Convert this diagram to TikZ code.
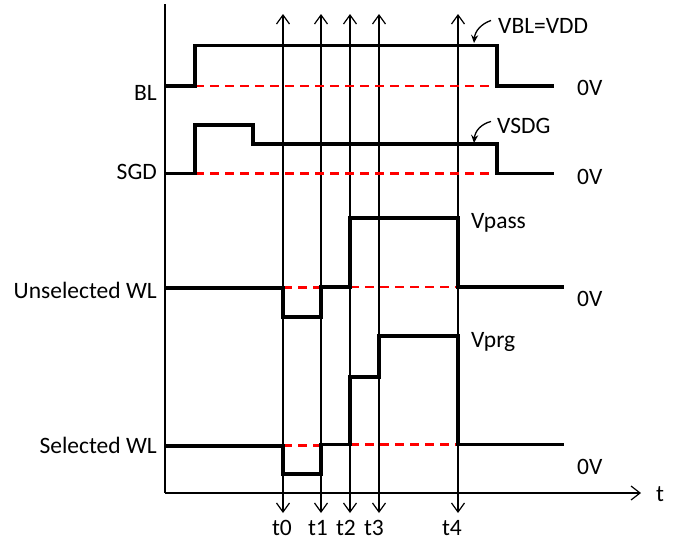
\documentclass[tikz,border=0pt]{standalone}
\usepackage{fontspec}
\setmainfont{Carlito}
\usetikzlibrary{arrows.meta}
\begin{document}
\begin{tikzpicture}[x=1pt,y=-1pt,
  wave/.style={line width=3.4pt,line join=miter,line cap=butt},
  zero/.style={red,line width=2.4pt,dash pattern=on 9pt off 6pt},
  thin/.style={line width=1.2pt},
  tarrow/.style={thin,{Straight Barb[length=9pt,width=13pt]}-{Straight Barb[length=9pt,width=13pt]}},
  lbl/.style={inner sep=0pt,font=\fontsize{23.5}{28}\selectfont},
  callout/.style={line width=1.3pt,-{Stealth[length=8pt,width=7pt]}}]
\useasboundingbox (0,0) rectangle (688,541);
% time marker arrows
\foreach \n/\x in {0/283,1/321,2/350,3/379,4/458}{
  \coordinate (top\n) at (\x,14);
  \coordinate (bot\n) at (\x,513);
  \draw[tarrow] (bot\n) -- (top\n);
}
% axes
\coordinate (ytop) at (165,4);
\coordinate (orig) at (165,493);
\coordinate (xend) at (641,493);
\draw[thin] (ytop) -- (orig);
\draw[thin,-{Straight Barb[length=9pt,width=14pt]}] (orig) -- (xend);
\node[lbl,anchor=base west] (tl) at (656,501) {t};
% zero reference lines
\draw[zero] (195,86) -- (497,86);
\draw[zero] (195,173.5) -- (497,173.5);
\draw[zero] (283,287.5) -- (321,287.5);
\draw[zero] (350,287) -- (458,287);
\draw[zero] (283,445.5) -- (321,445.5);
\draw[zero] (350,444.5) -- (458,444.5);
% waveforms
\draw[wave] (165,86) -- (195,86) -- (195,45.5) -- (497,45.5) -- (497,86) -- (554,86);
\draw[wave] (165,173.5) -- (195,173.5) -- (195,125) -- (253,125) -- (253,144) -- (497,144) -- (497,173.5) -- (554,173.5);
\draw[wave] (165,288) -- (283,288) -- (283,317) -- (321,317) -- (321,287) -- (350,287) -- (350,218) -- (458,218) -- (458,287) -- (564,287);
\draw[wave] (165,446) -- (283,446) -- (283,474) -- (321,474) -- (321,444.5) -- (350,444.5) -- (350,377) -- (379,377) -- (379,336) -- (458,336) -- (458,444.5) -- (564,444.5);
% signal names
\node[lbl,anchor=base east] (bl) at (157,100.5) {BL};
\node[lbl,anchor=base east] (sgd) at (157,179) {SGD};
\node[lbl,anchor=base east] (uwl) at (157,298) {Unselected WL};
\node[lbl,anchor=base east] (swl) at (157,453) {Selected WL};
% 0V labels
\node[lbl,anchor=base west] (z1) at (577,95) {0V};
\node[lbl,anchor=base west] (z2) at (577,184) {0V};
\node[lbl,anchor=base west] (z3) at (577,306) {0V};
\node[lbl,anchor=base west] (z4) at (577,474) {0V};
% level labels
\node[lbl,anchor=base west] (vbl) at (498,33) {VBL=VDD};
\node[lbl,anchor=base west] (vsdg) at (497,133) {VSDG};
\node[lbl,anchor=base west] (vpass) at (471,228) {Vpass};
\node[lbl,anchor=base west] (vprg) at (471,347) {Vprg};
% callout arrows
\coordinate (c1) at (474,43);
\coordinate (c2) at (474,143);
\draw[callout] (vbl.west) ++(-7,-5) .. controls (481,24) and (475,31) .. (c1);
\draw[callout] (vsdg.west) ++(-6,-4) .. controls (481,124) and (475,131) .. (c2);
% time labels
\node[lbl,anchor=base] (lt0) at (282,535.5) {t0};
\node[lbl,anchor=base] (lt1) at (318,535.5) {t1};
\node[lbl,anchor=base] (lt2) at (346,535.5) {t2};
\node[lbl,anchor=base] (lt3) at (374,535.5) {t3};
\node[lbl,anchor=base] (lt4) at (452,535.5) {t4};
\end{tikzpicture}
\end{document}
